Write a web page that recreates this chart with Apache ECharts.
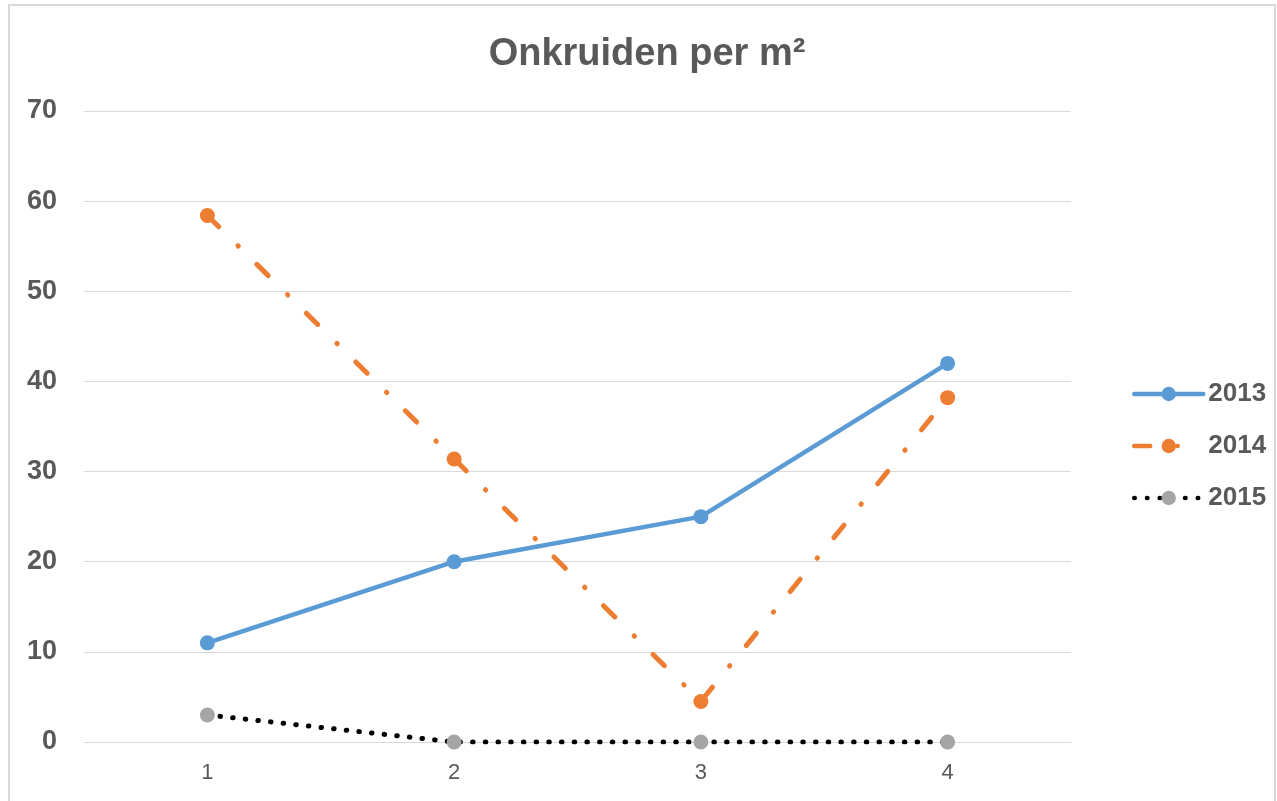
<!DOCTYPE html>
<html>
<head>
<meta charset="utf-8">
<script src="https://cdn.jsdelivr.net/npm/echarts@6/dist/echarts.min.js"></script>
<style>
  html, body { margin: 0; padding: 0; background: #fff; }
  #frame { position: absolute; left: 8px; top: 4px; width: 1268px; height: 820px; border: 2px solid #d9d9d9; box-sizing: border-box; }
  #chart { position: absolute; left: 0; top: 0; width: 1277px; height: 801px; }
</style>
</head>
<body>
<div id="frame"></div>
<div id="chart"></div>
<script>
const categories = ['1', '2', '3', '4'];
const values2013 = [11, 20, 25, 42];
const values2014 = [58.4, 31.4, 4.5, 38.2];
const values2015 = [3, 0, 0, 0];
const yTicks = [0, 10, 20, 30, 40, 50, 60, 70];

const FONT = '"Liberation Sans", "DejaVu Sans", sans-serif';
const TEXT = '#595959';

const chart = echarts.init(document.getElementById('chart'), null, { renderer: 'canvas' });

chart.setOption({
  backgroundColor: 'transparent',
  animation: false,
  title: {
    text: 'Onkruiden per m²',
    left: 642,
    top: 31,
    textAlign: 'center',
    textStyle: { fontFamily: FONT, fontWeight: 'bold', fontSize: 38, color: TEXT }
  },
  legend: {
    orient: 'vertical',
    left: 1127,
    top: 376,
    itemWidth: 69,
    itemHeight: 18,
    itemGap: 26,
    lineStyle: { width: 4.5 },
    textStyle: { fontFamily: FONT, fontWeight: 'bold', fontSize: 26, color: TEXT },
    data: ['2013', '2014', '2015']
  },
  grid: { left: 84, right: 206, top: 111, bottom: 59, containLabel: false },
  xAxis: {
    type: 'category',
    data: categories,
    boundaryGap: true,
    axisLine: { show: true, lineStyle: { color: '#d9d9d9', width: 1 } },
    axisTick: { show: false },
    axisLabel: { fontFamily: FONT, fontSize: 22, color: TEXT, margin: 20 },
    splitLine: { show: false }
  },
  yAxis: {
    type: 'value',
    min: yTicks[0],
    max: yTicks[yTicks.length - 1],
    interval: 10,
    axisLine: { show: false },
    axisTick: { show: false },
    axisLabel: { fontFamily: FONT, fontWeight: 'bold', fontSize: 27, color: TEXT, margin: 27 },
    splitLine: { show: true, lineStyle: { color: '#d9d9d9', width: 1 } }
  },
  series: [
    {
      name: '2013',
      type: 'line',
      data: values2013,
      symbol: 'circle',
      symbolSize: 15,
      itemStyle: { color: '#5b9bd5' },
      lineStyle: { color: '#5b9bd5', width: 4.5, cap: 'round' },
      z: 3
    },
    {
      name: '2014',
      type: 'line',
      data: values2014,
      symbol: 'circle',
      symbolSize: 15,
      itemStyle: { color: '#ed7d31' },
      lineStyle: { color: '#ed7d31', width: 5, type: [16, 27, 0.5, 26], cap: 'round' },
      z: 4
    },
    {
      name: '2015',
      type: 'line',
      data: values2015,
      symbol: 'circle',
      symbolSize: 15,
      itemStyle: { color: '#a5a5a5' },
      lineStyle: { color: '#000000', width: 5, type: [0.5, 12.2], cap: 'round' },
      z: 2
    }
  ]
});
</script>
</body>
</html>
